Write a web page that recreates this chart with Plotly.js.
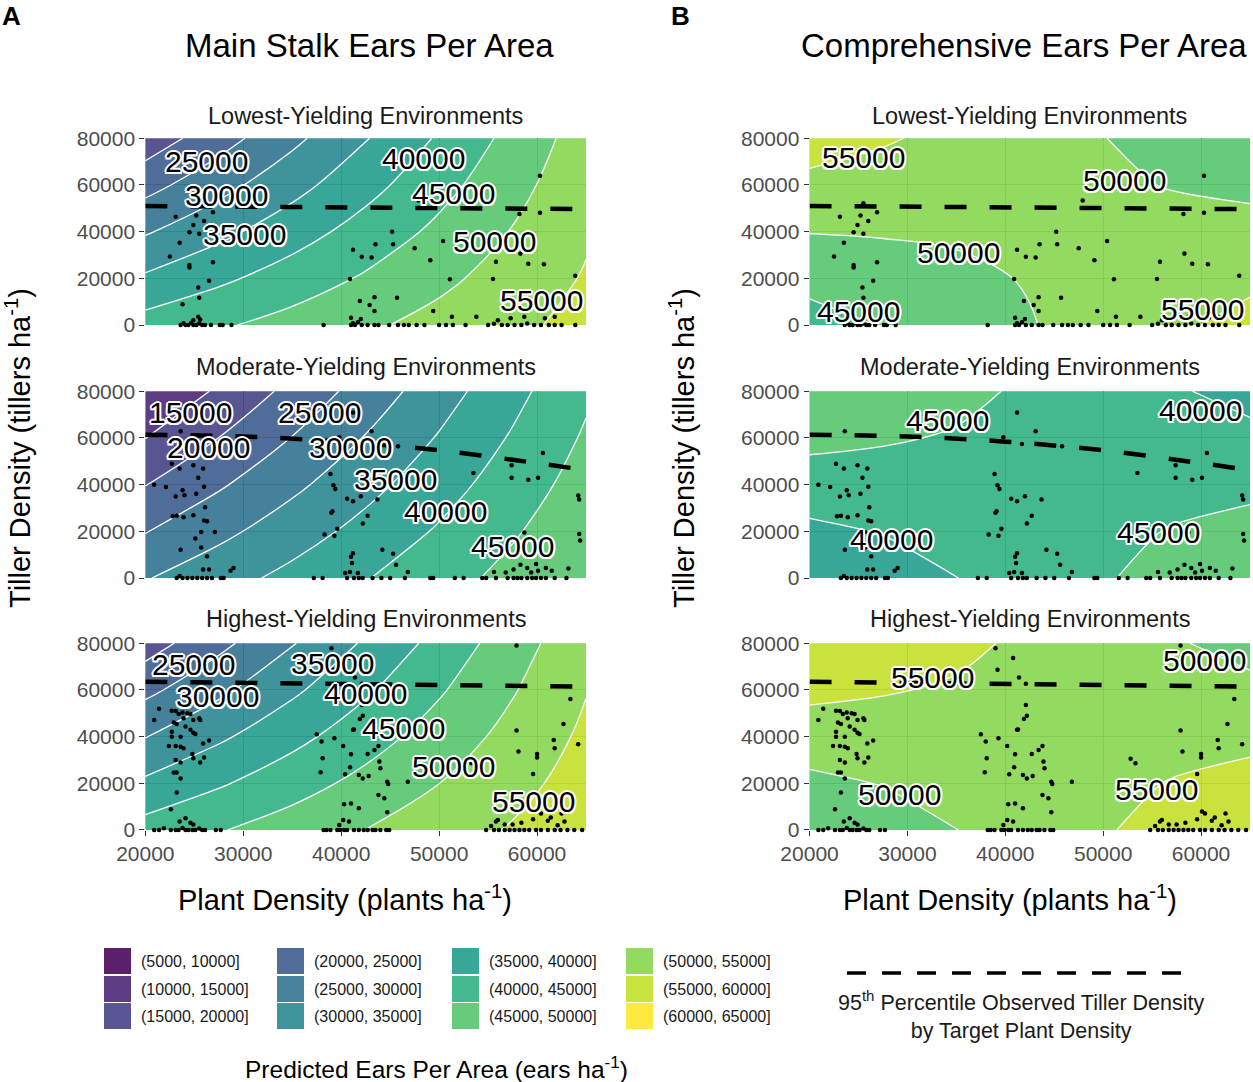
<!DOCTYPE html>
<html><head><meta charset="utf-8">
<script src="https://cdn.plot.ly/plotly-3.0.1.min.js"></script>
<style>html,body{margin:0;padding:0;background:#fff}</style>
</head><body><div id="chart" style="width:1253px;height:1082px"></div>
<script>
// ---------- data ----------
const plantGrid = [20000, 27500, 35000, 42500, 50000, 57500, 65000];
const tillerGrid = [0, 20000, 40000, 60000, 80000];

const zMainLowest = [
  [42000, 44400, 46800, 49200, 51600, 54000, 56400],
  [35750, 39025, 42300, 45575, 48850, 52125, 55400],
  [29500, 33650, 37800, 41950, 46100, 50250, 54400],
  [23250, 28275, 33300, 38325, 43350, 48375, 53400],
  [17000, 22900, 28800, 34700, 40600, 46500, 52400]];
const zMainModerate = [
  [29700, 33050, 36400, 39750, 43100, 46450, 49800],
  [24775, 28713, 32650, 36588, 40525, 44463, 48400],
  [19850, 24375, 28900, 33425, 37950, 42475, 47000],
  [14925, 20038, 25150, 30263, 35375, 40488, 45600],
  [10300, 15700, 21400, 27100, 32800, 38500, 44200]];
const zMainHighest = [
  [42000, 44683, 47367, 50050, 52733, 55417, 58100],
  [35910, 39425, 42940, 46455, 49970, 53485, 57000],
  [29820, 34167, 38513, 42860, 47207, 51553, 55900],
  [23730, 28908, 34087, 39265, 44443, 49622, 54800],
  [17640, 23650, 29660, 35670, 41680, 47690, 53700]];
const zCompLowest = [
  [43000, 45250, 47500, 49750, 52000, 54250, 56500],
  [46575, 47813, 49050, 50288, 51525, 52763, 54000],
  [50150, 50375, 50600, 50825, 51050, 51275, 51500],
  [53725, 52938, 52150, 51363, 50575, 49788, 49000],
  [57300, 55500, 53700, 51900, 50100, 48300, 46500]];
const zCompModerate = [
  [35300, 37617, 39933, 42250, 44567, 46883, 49200],
  [38975, 40233, 41492, 42750, 44008, 45267, 46525],
  [42650, 42850, 43050, 43250, 43450, 43650, 43850],
  [46325, 45467, 44608, 43750, 42892, 42033, 41175],
  [49900, 48083, 46167, 44250, 42333, 40417, 38500]];
const zCompHighest = [
  [45300, 47617, 49933, 52250, 54567, 56883, 59200],
  [48925, 50190, 51454, 52719, 53983, 55248, 56513],
  [52550, 52763, 52975, 53188, 53400, 53613, 53825],
  [56175, 55335, 54496, 53656, 52817, 51977, 51138],
  [59800, 57908, 56017, 54125, 52233, 50342, 48450]];

const lowPlant = [23100,25200,26900,26000,24900,24500,25500,23500,22500,24500,24500,26900,26500,25400,25500,23800,25400,25600,24900,
 23600,23900,24100,24400,24700,24900,25200,25500,25800,26100,26700,27600,27900,28800,
 25500,47900,
 45200,43500,45300,41200,42100,43100,40900,47500,49100,50400,41900,43400,45700,42900,43400,41000,42000,
 38200,41000,41200,41400,41700,42100,42700,43400,43800,
 60300,58200,60300,58300,55800,59100,60700,55500,51100,63900,49400,51300,53800,56000,57300,58700,60800,61800,
 44900,45800,46400,46900,47700,48500,50000,50700,51400,52700,55000,55600,56400,57000,57700,58400,59000,59700,60400,61200,61800,62500,63900];
const lowTiller = [46400,46900,48300,44600,42900,39700,39100,35300,29400,25700,24600,26900,19000,16100,11700,8900,3600,2400,2000,
 0,800,0,0,1000,0,0,700,0,0,0,0,0,0,
 52200,53300,
 40000,34600,34600,32300,29300,28900,19700,32900,27700,36000,10300,11900,11700,8600,6000,3100,2600,
 0,0,800,0,1200,0,0,0,0,
 64000,47600,48100,30600,27100,26300,26000,19700,19600,21100,6000,3600,3600,2100,2900,3600,2900,3600,
 0,0,0,0,0,0,0,0,0,0,0,600,0,0,0,0,700,0,0,0,0,0,0];

const modPlant = [23600,22700,23500,24900,25900,25400,20900,22100,23800,26000,23100,24000,25200,26100,22800,23200,23900,24900,26000,26300,27100,25700,25100,25700,23600,26300,25900,26500,28700,29000,
 23200,23500,23800,24300,24800,25300,25800,26300,26800,27700,28000,
 43100,38900,39200,39400,39100,39000,40600,41200,42000,43700,38300,39300,39600,42200,42700,44200,45300,45600,41200,41000,41100,40400,40900,41700,46800,41200,39800,41700,
 37200,38100,40600,41300,41800,42200,43200,44100,45000,46500,49100,49400,51600,52500,54400,
 45800,53500,60600,57400,57400,59100,60100,64200,64300,64300,64400,63200,55600,56800,57600,58300,59000,59900,60100,60900,61500,59400,58700,
 54800,55800,57000,57600,58000,58400,59000,59500,59900,60400,60900,61800,63000];
const modTiller = [62900,48900,46900,48300,46900,42900,40000,39000,37600,39100,34900,35400,36100,30300,26400,26700,26000,26900,24600,24300,19700,19700,16900,13100,12100,9300,3600,3600,3100,4300,
 0,900,0,0,0,0,0,0,0,0,0,
 62900,44600,39700,38100,28600,27900,33900,32900,35000,33600,18600,18100,21100,23300,26700,12100,10400,5700,10600,9100,6400,2100,2600,2100,2600,70900,60300,57400,
 0,0,0,0,0,0,0,0,0,0,0,0,0,0,0,
 56400,45000,53600,48300,42900,42100,42900,35300,33600,18900,16100,4100,2600,2400,3600,5700,4300,6000,3100,4300,3100,2400,19500,
 0,0,0,0,0,0,0,0,0,0,0,0,0];

const highPlant = [21400,20900,22700,23100,23400,23800,24300,24600,24900,25500,25600,23900,22900,23200,24100,24600,24900,25100,23600,22700,22700,26500,22400,23100,23600,23900,25900,24800,26000,23100,24900,23600,25600,22900,23200,23600,23200,22600,24100,23500,24600,24900,
 20900,21400,21900,22600,23100,23400,23800,24100,24400,24800,25100,25500,25800,26100,27200,27700,
 37500,38000,39300,40200,38100,41000,37900,40400,41800,42800,42200,43400,43800,42700,41300,41900,42200,42100,41200,43900,44000,44700,44800,46800,40900,40300,41000,41800,40200,40800,39800,44700,43800,44400,39000,39200,40800,41400,42100,
 38200,38500,38900,39600,39900,40300,40600,41300,41800,42300,42700,43200,43500,44000,44600,44900,
 57900,63400,62700,57900,58100,60000,60000,61700,61800,64200,59600,53300,52800,55300,55800,56000,56700,57500,58400,59600,60100,60400,61100,61400,62100,62500,62800,
 54800,55600,56100,56700,57200,57700,58200,58700,59200,59900,60400,61100,61800,62400,63100,63800,64600];
const highTiller = [51900,47100,51100,51000,49700,50300,50000,49700,47100,47900,47100,47900,46000,45400,44300,42900,41700,41100,40000,42100,40000,38300,36000,36000,35700,35000,37100,32600,31100,30000,30700,28900,28900,24600,24600,22100,16100,8900,5000,3600,3100,2400,
 0,0,800,0,0,0,900,0,0,0,0,600,0,0,0,0,
 41000,37900,39300,36000,30700,32400,24700,23900,23600,23100,22100,34300,36000,32600,43100,47600,48900,53600,42900,29300,26400,20700,19700,20700,26900,11000,11400,9300,4300,3600,2100,7600,15000,13600,77900,68600,73700,65300,62600,
 0,0,0,0,0,0,0,0,0,0,0,0,0,0,0,0,
 79000,56100,45400,42600,33600,32600,31100,38600,35000,36700,24000,28600,30500,1700,3600,4300,2400,2400,3100,4600,7900,7100,4000,5400,2000,7100,3600,
 0,0,0,0,0,0,0,0,0,0,0,0,0,0,0,0,0];

// 95th percentile observed tiller density by target plant density
const p95LowPlant = [20000, 65000];
const p95LowTiller = [51000, 49650];
const p95ModPlant = [20000, 30000, 40000, 50000, 60000, 65000];
const p95ModTiller = [61400, 60600, 58400, 54700, 49200, 46200];
const p95HighPlant = [20000, 65000];
const p95HighTiller = [63500, 61450];

const plantTicks = [20000, 30000, 40000, 50000, 60000];
const tillerTicks = [0, 20000, 40000, 60000, 80000];

const viridis12 = ['#440154','#482173','#433E85','#38598C','#2D708E','#25858E','#1E9B8A','#2BB07F','#51C56A','#85D54A','#C2DF23','#FDE725'];
const binLabels = ['(5000, 10000]','(10000, 15000]','(15000, 20000]','(20000, 25000]','(25000, 30000]','(30000, 35000]',
  '(35000, 40000]','(40000, 45000]','(45000, 50000]','(50000, 55000]','(55000, 60000]','(60000, 65000]'];

// contour label levels per panel
const lblMainLow = [25000, 30000, 35000, 40000, 45000, 50000, 55000];
const lblMainMod = [15000, 20000, 25000, 30000, 35000, 40000, 45000];
const lblMainHigh = [25000, 30000, 35000, 40000, 45000, 50000, 55000];
const lblCompLow = [55000, 50000, 50000, 45000, 55000];
const lblCompMod = [45000, 40000, 40000, 45000];
const lblCompHigh = [55000, 50000, 50000, 55000];

// ---------- layout config (positions) ----------
const lblPos = {
  mainLow: [[26200,70000],[28250,55700],[30100,38600],[48400,71400],[51500,56400],[55700,35700],[60500,10700]],
  mainMod: [[24600,70700],[26500,55700],[37800,70700],[41000,55700],[45500,42100],[50700,28600],[57500,13600]],
  mainHigh: [[24900,70700],[27400,57100],[39100,71400],[42500,58600],[46400,43600],[51500,27100],[59600,12100]],
  compLow: [[25500,71800],[52200,61700],[35200,31200],[25000,5900],[60100,6600]],
  compMod: [[34100,67300],[59900,71600],[28400,16600],[55700,19500]],
  compHigh: [[32600,65300],[60400,72500],[29200,15300],[55400,17500]]
};

const F = '"Liberation Sans", Arial, sans-serif';
const halo = '2px 0 0 #fff, -2px 0 0 #fff, 0 2px 0 #fff, 0 -2px 0 #fff, 1.5px 1.5px 0 #fff, -1.5px -1.5px 0 #fff, 1.5px -1.5px 0 #fff, -1.5px 1.5px 0 #fff';
const colDom = [[0.1160, 0.4677], [0.6461, 0.9976]];
const rowDom = [[0.6996, 0.8722], [0.4658, 0.6384], [0.2329, 0.4055]];
const FILL_OPACITY = 0.88;

const colorscale = viridis12.map((c, i) => [i / 11, c]);

const panels = [
  {n:1, col:0, row:0, z:zMainLowest, px:lowPlant, py:lowTiller, dx:p95LowPlant, dy:p95LowTiller, lv:lblMainLow, pos:lblPos.mainLow},
  {n:2, col:1, row:0, z:zCompLowest, px:lowPlant, py:lowTiller, dx:p95LowPlant, dy:p95LowTiller, lv:lblCompLow, pos:lblPos.compLow},
  {n:3, col:0, row:1, z:zMainModerate, px:modPlant, py:modTiller, dx:p95ModPlant, dy:p95ModTiller, lv:lblMainMod, pos:lblPos.mainMod},
  {n:4, col:1, row:1, z:zCompModerate, px:modPlant, py:modTiller, dx:p95ModPlant, dy:p95ModTiller, lv:lblCompMod, pos:lblPos.compMod},
  {n:5, col:0, row:2, z:zMainHighest, px:highPlant, py:highTiller, dx:p95HighPlant, dy:p95HighTiller, lv:lblMainHigh, pos:lblPos.mainHigh},
  {n:6, col:1, row:2, z:zCompHighest, px:highPlant, py:highTiller, dx:p95HighPlant, dy:p95HighTiller, lv:lblCompHigh, pos:lblPos.compHigh}
];

const traces = [];
const layout = {
  width: 1253, height: 1082,
  margin: {l:0, r:0, t:0, b:0},
  paper_bgcolor: '#fff', plot_bgcolor: '#fff',
  showlegend: false,
  font: {family: F, color: '#000'},
  annotations: [], shapes: []
};

panels.forEach(p => {
  const xa = 'x' + (p.n === 1 ? '' : p.n), ya = 'y' + (p.n === 1 ? '' : p.n);
  traces.push({
    type: 'contour', x: plantGrid, y: tillerGrid, z: p.z, xaxis: xa, yaxis: ya,
    autocontour: false,
    contours: {start: 10000, end: 60000, size: 5000, coloring: 'fill', showlines: true, showlabels: false},
    line: {color: '#ffffff', width: 1.3, smoothing: 1},
    colorscale: colorscale, showscale: false, opacity: FILL_OPACITY, hoverinfo: 'skip'
  });
  traces.push({
    type: 'scatter', mode: 'lines', x: p.dx, y: p.dy, xaxis: xa, yaxis: ya,
    line: {color: '#000', width: 4.5, dash: '22px,23px', shape: 'spline'}, hoverinfo: 'skip'
  });
  traces.push({
    type: 'scatter', mode: 'markers', x: p.px, y: p.py, xaxis: xa, yaxis: ya,
    marker: {color: '#000', size: 4.5}, cliponaxis: false, hoverinfo: 'skip'
  });
  const bottom = p.row === 2;
  layout['xaxis' + (p.n === 1 ? '' : p.n)] = {
    domain: colDom[p.col], anchor: ya, range: [20000, 65000],
    tickvals: plantTicks, tickformat: 'd', showticklabels: bottom,
    ticks: bottom ? 'outside' : '', ticklen: 5, tickcolor: '#333', tickwidth: 1,
    tickfont: {family: F, size: 21, color: '#4d4d4d'},
    showgrid: true, gridcolor: '#8c8c8c', gridwidth: 1, zeroline: false, showline: false, fixedrange: true
  };
  layout['yaxis' + (p.n === 1 ? '' : p.n)] = {
    domain: rowDom[p.row], anchor: xa, range: [0, 80000],
    tickvals: tillerTicks, tickformat: 'd', showticklabels: true,
    ticks: 'outside', ticklen: 5, tickcolor: '#333', tickwidth: 1,
    tickfont: {family: F, size: 21, color: '#4d4d4d'},
    showgrid: true, gridcolor: '#8c8c8c', gridwidth: 1, zeroline: false, showline: false, fixedrange: true
  };
  p.lv.forEach((lv, i) => {
    layout.annotations.push({
      xref: xa, yref: ya, x: p.pos[i][0], y: p.pos[i][1], text: String(lv), showarrow: false,
      xanchor: 'center', yanchor: 'middle',
      font: {family: F, size: 30, color: '#000', shadow: halo}
    });
  });
});

const W = 1253, H = 1082;
const px = v => v / W, py = v => 1 - v / H;
function paperText(text, x, y, size, extra) {
  layout.annotations.push(Object.assign({
    xref: 'paper', yref: 'paper', x: px(x), y: py(y), text: text, showarrow: false,
    xanchor: 'center', yanchor: 'middle', font: {family: F, size: size, color: '#000'}
  }, extra || {}));
}
paperText('<b>A</b>', 11, 16, 26);
paperText('<b>B</b>', 680, 16, 26);
paperText('Main Stalk Ears Per Area', 369, 46, 33);
paperText('Comprehensive Ears Per Area', 1024, 46, 33);
const envNames = ['Lowest-Yielding Environments', 'Moderate-Yielding Environments', 'Highest-Yielding Environments'];
const subY = [116, 367, 619];
envNames.forEach((t, r) => {
  paperText(t, 365.6, subY[r], 23.5, {font: {family: F, size: 23.5, color: '#1a1a1a'}});
  paperText(t, 1029.8, subY[r], 23.5, {font: {family: F, size: 23.5, color: '#1a1a1a'}});
});
const yTitle = 'Tiller Density (tillers ha<sup>-1</sup>)';
paperText(yTitle, 18, 448, 29, {textangle: -90});
paperText(yTitle, 682, 448, 29, {textangle: -90});
const xTitle = 'Plant Density (plants ha<sup>-1</sup>)';
paperText(xTitle, 345, 898, 29);
paperText(xTitle, 1010, 898, 29);

// legend (fill bins)
const legColX = [104, 277, 452, 626];
const legRowY = [948, 976, 1003];
viridis12.forEach((c, i) => {
  const cI = Math.floor(i / 3), rI = i % 3;
  const x0 = legColX[cI], y0 = legRowY[rI];
  layout.shapes.push({type: 'rect', xref: 'paper', yref: 'paper',
    x0: px(x0), x1: px(x0 + 27), y0: py(y0 + 26), y1: py(y0),
    fillcolor: c, opacity: FILL_OPACITY, line: {width: 0}});
  layout.annotations.push({xref: 'paper', yref: 'paper', x: px(x0 + 35), y: py(y0 + 13),
    text: binLabels[i], showarrow: false, xanchor: 'left', yanchor: 'middle',
    font: {family: F, size: 16, color: '#1a1a1a'}});
});
paperText('Predicted Ears Per Area (ears ha<sup>-1</sup>)', 436, 1067, 24.5);

// legend (dashed line)
layout.shapes.push({type: 'line', xref: 'paper', yref: 'paper', x0: px(847), x1: px(1185), y0: py(973), y1: py(973),
  line: {color: '#000', width: 3.5, dash: '19px,16px'}});
paperText('95<sup>th</sup> Percentile Observed Tiller Density<br>by Target Plant Density', 1021, 1015, 21.5,
  {font: {family: F, size: 21.5, color: '#1a1a1a'}});

Plotly.newPlot('chart', traces, layout, {staticPlot: true, displayModeBar: false});
</script></body></html>
